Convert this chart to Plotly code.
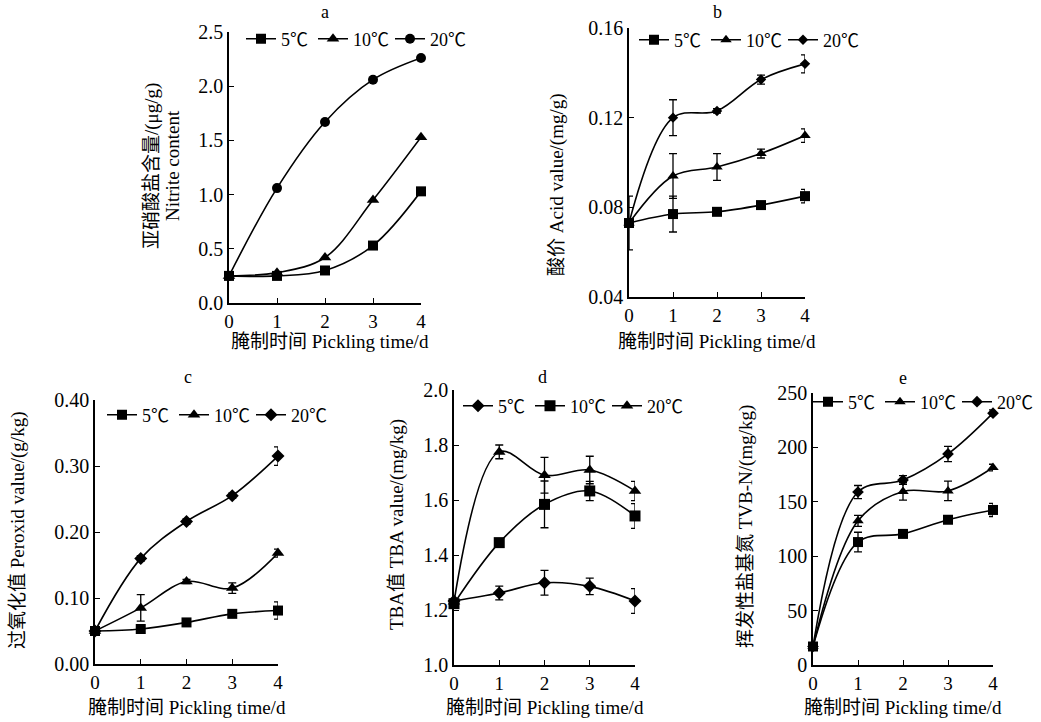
import plotly.graph_objects as go

W, H = 1041, 722
days = [0, 1, 2, 3, 4]
temps = ["5℃", "10℃", "20℃"]
x_title = "腌制时间 Pickling time/d"

# a: nitrite content
nitrite_5 = [0.25, 0.25, 0.30, 0.53, 1.03]
nitrite_10 = [0.25, 0.28, 0.42, 0.95, 1.53]
nitrite_20 = [0.25, 1.06, 1.67, 2.06, 2.26]

# b: acid value
acid_5 = [0.073, 0.077, 0.078, 0.081, 0.085]
acid_5_err = [0.012, 0.008, 0.001, 0.001, 0.003]
acid_10 = [0.073, 0.094, 0.098, 0.104, 0.112]
acid_10_err = [0.0, 0.010, 0.006, 0.002, 0.003]
acid_20 = [0.073, 0.120, 0.123, 0.137, 0.144]
acid_20_err = [0.0, 0.008, 0.001, 0.002, 0.004]

# c: peroxide value
perox_5 = [0.050, 0.053, 0.063, 0.076, 0.081]
perox_5_err = [0.0, 0.003, 0.002, 0.003, 0.013]
perox_10 = [0.050, 0.085, 0.125, 0.115, 0.168]
perox_10_err = [0.0, 0.020, 0.003, 0.008, 0.006]
perox_20 = [0.050, 0.160, 0.216, 0.255, 0.315]
perox_20_err = [0.0, 0.004, 0.004, 0.004, 0.014]

# d: TBA value (5℃ diamond, 10℃ square, 20℃ triangle)
tba_5 = [1.233, 1.262, 1.299, 1.286, 1.233]
tba_5_err = [0.0, 0.025, 0.045, 0.030, 0.045]
tba_10 = [1.223, 1.445, 1.584, 1.633, 1.542]
tba_10_err = [0.0, 0.005, 0.085, 0.035, 0.045]
tba_20 = [1.230, 1.775, 1.690, 1.709, 1.633]
tba_20_err = [0.0, 0.025, 0.065, 0.050, 0.035]

# e: TVB-N
tvbn_5 = [17, 113, 120.5, 133.5, 142.5]
tvbn_5_err = [0, 9, 2, 2, 6]
tvbn_10 = [17, 132.5, 159.5, 160, 181.5]
tvbn_10_err = [0, 5, 8, 9, 3]
tvbn_20 = [17, 159, 170, 194, 231.5]
tvbn_20_err = [0, 6, 4, 7, 3]

FONT = "Liberation Serif, Noto Sans CJK SC, serif"


def fx(p):
    return p / W


def fy(p):
    return 1 - p / H


panels = [
    dict(k="", xd=(229, 421), yd=(32, 303), yr=[0, 2.5], dt=0.5, fmt=".1f",
         yt=[("亚硝酸盐含量/(μg/g)", 152), ("Nitrite content", 172)], ytc=166,
         lab="a", labpos=(325, 12), xt=(330, 341), leg=(241, 39),
         series=[(nitrite_5, None, "square", 10), (nitrite_10, None, "triangle-up", 11),
                 (nitrite_20, None, "circle", 10)]),
    dict(k="2", xd=(629, 805), yd=(28, 297), yr=[0.04, 0.16], dt=0.04, fmt=".2f",
         yt=[("酸价 Acid value/(mg/g)", 557)], ytc=185,
         lab="b", labpos=(717, 12), xt=(717, 341), leg=(634, 40),
         series=[(acid_5, acid_5_err, "square", 10), (acid_10, acid_10_err, "triangle-up", 10),
                 (acid_20, acid_20_err, "diamond", 8)]),
    dict(k="3", xd=(95, 278), yd=(400, 664), yr=[0, 0.4], dt=0.1, fmt=".2f",
         yt=[("过氧化值 Peroxid value/(g/kg)", 18)], ytc=531,
         lab="c", labpos=(188, 377), xt=(187, 707), leg=(102, 415),
         series=[(perox_5, perox_5_err, "square", 10), (perox_10, perox_10_err, "triangle-up", 11),
                 (perox_20, perox_20_err, "diamond", 10)]),
    dict(k="4", xd=(454, 635), yd=(390, 665), yr=[1.0, 2.0], dt=0.2, fmt=".1f",
         yt=[("TBA值 TBA value/(mg/kg)", 397)], ytc=525,
         lab="d", labpos=(542, 377), xt=(545, 707), leg=(458, 406),
         series=[(tba_5, tba_5_err, "diamond", 10), (tba_10, tba_10_err, "square", 11),
                 (tba_20, tba_20_err, "triangle-up", 11)]),
    dict(k="5", xd=(813, 993), yd=(393, 665), yr=[0, 250], dt=50, fmt="d",
         yt=[("挥发性盐基氮 TVB-N/(mg/kg)", 746)], ytc=527,
         lab="e", labpos=(903, 378), xt=(903, 707), leg=(808, 402),
         series=[(tvbn_5, tvbn_5_err, "square", 10), (tvbn_10, tvbn_10_err, "triangle-up", 10),
                 (tvbn_20, tvbn_20_err, "diamond", 9)]),
]

entry_w = [27, 32, 36]

fig = go.Figure()
layout = dict(width=W, height=H, margin=dict(l=0, r=0, t=0, b=0, autoexpand=False),
              paper_bgcolor="white", plot_bgcolor="white",
              font=dict(family=FONT, size=18, color="black"), showlegend=True,
              annotations=[])


def ann(text, x, y, size, angle=0):
    return dict(text=text, x=fx(x), y=fy(y), xref="paper", yref="paper",
                xanchor="center", yanchor="middle", showarrow=False,
                textangle=angle, font=dict(size=size))


for p in panels:
    k = p["k"]
    legname = "legend" + k
    for (vals, err, sym, sz), name, ew in zip(p["series"], temps, entry_w):
        tr = dict(x=days, y=vals, mode="lines+markers", name=name,
                  line=dict(color="black", width=1.6, shape="spline", smoothing=1.0),
                  marker=dict(symbol=sym, size=sz, color="black"),
                  cliponaxis=False, xaxis="x" + k, yaxis="y" + k, legend=legname,
                  legendwidth=ew)
        if err is not None:
            tr["error_y"] = dict(type="data", array=err, color="black", thickness=1.3, width=4)
        fig.add_trace(go.Scatter(**tr))
    axcommon = dict(showline=True, linecolor="black", linewidth=1.5, ticks="inside",
                    ticklen=5, tickcolor="black", tickwidth=1.3, showgrid=False,
                    zeroline=False, mirror=False, automargin=False)
    layout["xaxis" + k] = dict(axcommon, domain=[fx(p["xd"][0]), fx(p["xd"][1])],
                               range=[0, 4], dtick=1, anchor="y" + k,
                               tickfont=dict(size=19))
    layout["yaxis" + k] = dict(axcommon, domain=[fy(p["yd"][1]), fy(p["yd"][0])],
                               range=p["yr"], dtick=p["dt"], tickformat=p["fmt"],
                               anchor="x" + k, tickfont=dict(size=20))
    layout[legname] = dict(x=fx(p["leg"][0]), y=fy(p["leg"][1]),
                           xanchor="left", yanchor="middle", orientation="h",
                           bgcolor="rgba(0,0,0,0)", font=dict(size=18),
                           itemwidth=30, tracegroupgap=0, borderwidth=0)
    layout["annotations"].append(ann(p["lab"], *p["labpos"], 18))
    layout["annotations"].append(ann(x_title, *p["xt"], 19))
    for text, xc in p["yt"]:
        layout["annotations"].append(ann(text, xc, p["ytc"], 19, -90))

fig.update_layout(**layout)
fig.write_html("out.html", config={"displayModeBar": False},
               post_script="document.body.style.margin='0px';")
